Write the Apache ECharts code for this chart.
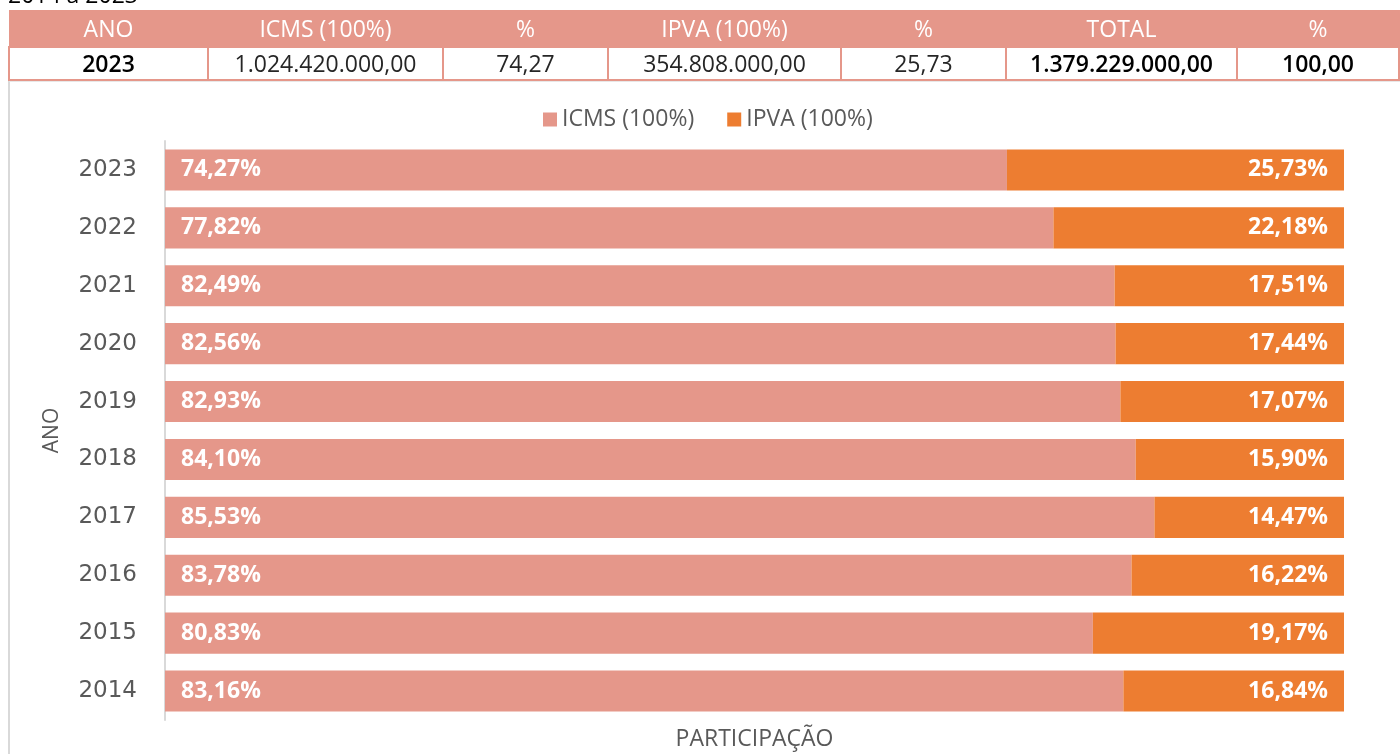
<!DOCTYPE html>
<html>
<head>
<meta charset="utf-8">
<script src="https://cdn.jsdelivr.net/npm/echarts@6/dist/echarts.min.js"></script>
<style>
  html, body { margin:0; padding:0; width:1400px; height:754px; overflow:hidden; background:#fff; }
  #title { position:absolute; left:8px; top:-22px; font:23px 'Open Sans', sans-serif; color:#000; }
  #tbl { position:absolute; left:8px; top:10px; width:1390px; border-collapse:collapse; table-layout:fixed; font-family:'Open Sans', sans-serif; }
  #tbl th { background:#E5978A; color:#fff; font-weight:normal; font-size:23px; height:35px; padding:0; border:1px solid #E5978A; line-height:33px; }
  #tbl td { background:#fff; color:#262626; font-size:23px; height:31px; padding:0; text-align:center; border:2px solid #E5978A; line-height:29px; }
  #frame { position:absolute; left:8px; top:80px; width:1392px; height:680px; border-left:2px solid #D9D9D9; border-top:2px solid #E8E8E8; }
  #chart { position:absolute; left:0; top:0; width:1400px; height:754px; }
</style>
</head>
<body>
<div id="frame"></div>
<div id="chart"></div>
<div id="title">2014 a 2023</div>
<table id="tbl"></table>
<script>
// ---- data ----
const tableHeaders = ['ANO', 'ICMS (100%)', '%', 'IPVA (100%)', '%', 'TOTAL', '%'];
const tableRow = ['2023', '1.024.420.000,00', '74,27', '354.808.000,00', '25,73', '1.379.229.000,00', '100,00'];
const years = ['2014', '2015', '2016', '2017', '2018', '2019', '2020', '2021', '2022', '2023'];
const icms = [83.16, 80.83, 83.78, 85.53, 84.10, 82.93, 82.56, 82.49, 77.82, 74.27];
const ipva = [16.84, 19.17, 16.22, 14.47, 15.90, 17.07, 17.44, 17.51, 22.18, 25.73];
const seriesNames = ['ICMS (100%)', 'IPVA (100%)'];
const xMin = 10, xMax = 100;

// ---- table ----
const colWidths = [199, 235, 165, 233, 165, 231, 162];
const boldCols = [0, 5, 6];
const tbl = document.getElementById('tbl');
let cg = '<colgroup>' + colWidths.map(w => '<col style="width:' + w + 'px">').join('') + '</colgroup>';
let h = '<tr>' + tableHeaders.map(t => '<th>' + t + '</th>').join('') + '</tr>';
let r = '<tr>' + tableRow.map((t, i) => '<td style="' + (boldCols.includes(i) ? 'color:#000;font-weight:600;' : '') + '">' + t + '</td>').join('') + '</tr>';
tbl.innerHTML = cg + h + r;

// ---- chart ----
const fmt = v => v.toFixed(2).replace('.', ',') + '%';
const chart = echarts.init(document.getElementById('chart'));
chart.setOption({
  animation: false,
  textStyle: { fontFamily: 'Open Sans' },
  legend: {
    data: seriesNames,
    top: 103, left: 538,
    itemWidth: 14, itemHeight: 14, itemGap: 33,
    icon: 'rect',
    textStyle: { fontSize: 23, color: '#595959', fontFamily: 'Open Sans' }
  },
  grid: { left: 165, right: 56, top: 141, bottom: 34, containLabel: false, outerBoundsMode: 'none' },
  xAxis: {
    type: 'value', min: xMin, max: xMax,
    axisLine: { show: false }, axisTick: { show: false }, axisLabel: { show: false }, splitLine: { show: false },
    name: 'PARTICIPAÇÃO', nameLocation: 'middle', nameGap: 8,
    nameTextStyle: { fontSize: 23, color: '#595959', fontFamily: 'Open Sans' }
  },
  yAxis: {
    type: 'category', data: years,
    axisLine: { show: true, lineStyle: { color: '#D9D9D9', width: 2 } },
    axisTick: { show: false },
    axisLabel: { fontSize: 23, color: '#595959', margin: 28, fontFamily: 'DejaVu Sans' },
    name: 'ANO', nameLocation: 'middle', nameGap: 102, nameRotate: 90,
    nameTextStyle: { fontSize: 21, color: '#595959', fontFamily: 'Open Sans' }
  },
  series: [
    {
      name: seriesNames[0], type: 'bar', stack: 'a', data: icms, barWidth: '71%',
      itemStyle: { color: '#E5978A' },
      label: { show: true, position: 'insideLeft', distance: 16, color: '#fff', fontWeight: 'bold', fontSize: 23, fontFamily: 'Open Sans', formatter: p => fmt(p.value) }
    },
    {
      name: seriesNames[1], type: 'bar', stack: 'a', data: ipva, barWidth: '71%',
      itemStyle: { color: '#ED7D31' },
      label: { show: true, position: 'insideRight', distance: 16, color: '#fff', fontWeight: 'bold', fontSize: 23, fontFamily: 'Open Sans', formatter: p => fmt(p.value) }
    }
  ]
});
</script>
</body>
</html>
